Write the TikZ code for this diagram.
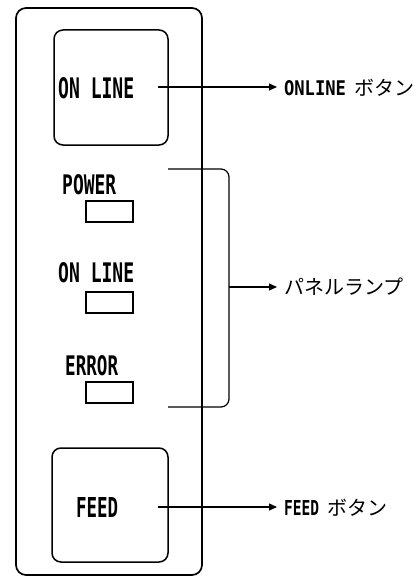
\documentclass[tikz,border=0pt]{standalone}
\usepackage{fontspec}
\setmonofont{DejaVu Sans Mono}
\newfontfamily\jp{Noto Sans CJK JP}
\usetikzlibrary{arrows.meta}
\newcommand{\fitlbl}[3]{\resizebox{#1pt}{#2pt}{\ttfamily\bfseries #3}}
\begin{document}
\begin{tikzpicture}[x=1pt,y=-1pt,
  panel/.style={draw, line width=1.7pt, rounded corners=10pt, inner sep=0},
  btn/.style={draw, line width=1.5pt, rounded corners=9pt, inner sep=0},
  lamp/.style={draw, line width=1.2pt, minimum width=47pt, minimum height=21pt, inner sep=0},
  txt/.style={inner sep=0, anchor=north west},
  callout/.style={inner sep=0, outer xsep=7pt, anchor=base west, font=\jp\fontsize{20pt}{20pt}\selectfont},
  conn/.style={line width=1.2pt, -{Triangle[length=8pt,width=7pt]}},
  bracket/.style={line width=1.2pt, rounded corners=8pt}
]
\useasboundingbox (0,0) rectangle (420,578);
% outer panel
\node[panel, minimum width=186pt, minimum height=567pt] (panel) at (109,291.5) {};
% buttons
\node[btn, minimum width=114pt, minimum height=115pt] (onbtn) at (111,87.5) {};
\node[btn, minimum width=116pt, minimum height=114pt] (feedbtn) at (110,505) {};
% button texts
\node[txt] (onl) at (58,77) {\fitlbl{76}{21}{ON LINE}};
\node[txt] (feed) at (76,497) {\fitlbl{42}{20}{FEED}};
% lamp texts
\node[txt] (pw) at (62,174) {\fitlbl{54}{20}{POWER}};
\node[txt] (ol) at (58,262) {\fitlbl{76}{20}{ON LINE}};
\node[txt] (er) at (65,355) {\fitlbl{53}{20}{ERROR}};
% lamps
\node[lamp] (pwl) at (109.5,211.5) {};
\node[lamp] (oll) at (109.5,302.5) {};
\node[lamp] (erl) at (109.5,392.5) {};
% callouts
\node[callout] (c1) at (277,95.5) {\fitlbl{62}{15}{ONLINE}\hspace{8pt}ボタン};
\node[callout] (c2) at (277,294.5) {パネルランプ};
\node[callout] (c3) at (277,515.5) {\fitlbl{35}{15}{FEED}\hspace{8pt}ボタン};
% connectors
\coordinate (s1) at (158,87);
\draw[conn] (s1) -- (s1 -| c1.west);
\coordinate (s3) at (158,507);
\draw[conn] (s3) -- (s3 -| c3.west);
\coordinate (bt) at (168,169);
\coordinate (bb) at (168,407);
\coordinate (bm) at (229,287);
\draw[bracket] (bt) -- (bt -| bm) -- (bb -| bm) -- (bb);
\draw[conn] (bm) -- (bm -| c2.west);
\end{tikzpicture}
\end{document}
